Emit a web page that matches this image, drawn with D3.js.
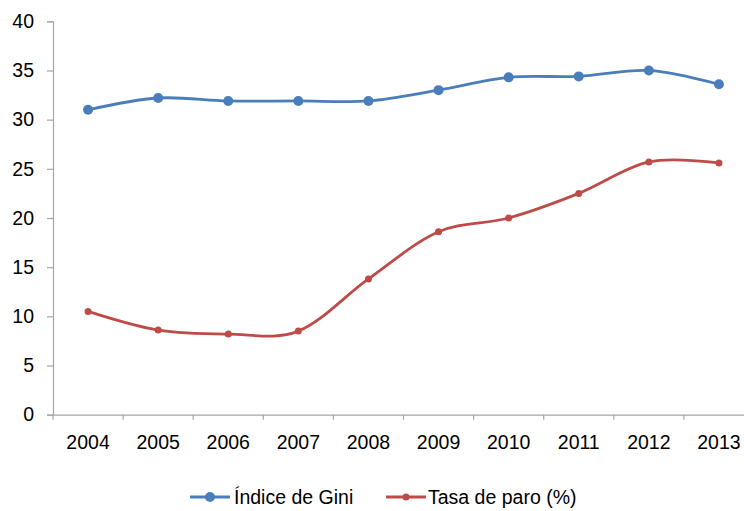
<!DOCTYPE html>
<html>
<head>
<meta charset="utf-8">
<script src="https://cdn.jsdelivr.net/npm/d3@7"></script>
<style>
html,body{margin:0;padding:0;background:#fff;}
svg{display:block;}
text{font-family:"Liberation Sans",Arial,sans-serif;fill:#000;}
</style>
</head>
<body>
<svg id="chart" width="744" height="511"></svg>
<script>
const years = ["2004","2005","2006","2007","2008","2009","2010","2011","2012","2013"];
const gini = [31.0, 32.2, 31.9, 31.9, 31.9, 33.0, 34.3, 34.4, 35.0, 33.6];
const paro = [10.5, 8.6, 8.2, 8.5, 13.8, 18.6, 20.0, 22.5, 25.7, 25.6];
const yTicks = [0, 5, 10, 15, 20, 25, 30, 35, 40];
const seriesNames = ["Índice de Gini", "Tasa de paro (%)"];

(function () {
const svg = d3.select("#chart");
const mLeft = 53, mRight = 754, mTop = 21.3, mBottom = 414.7;
const fontSize = "19.5px";

const x = d3.scaleBand().domain(years).range([mLeft, mRight]);
const y = d3.scaleLinear().domain([0, 40]).range([mBottom, mTop]);

// Y axis
const yAxis = svg.append("g").attr("transform", `translate(${mLeft},0)`)
  .call(d3.axisLeft(y).tickValues(yTicks).tickSize(6).tickPadding(13));
yAxis.select(".domain").attr("stroke", "#a6a6a6").attr("stroke-width", 1.2);
yAxis.selectAll(".tick line").attr("stroke", "#a6a6a6").attr("stroke-width", 1.2);
yAxis.selectAll("text").style("font-size", fontSize).attr("fill", "#000")
  .style("font-family", '"Liberation Sans",Arial,sans-serif');

// X axis
const xAxis = svg.append("g").attr("transform", `translate(0,${mBottom})`)
  .call(d3.axisBottom(x).tickSize(0).tickPadding(20));
xAxis.select(".domain").attr("stroke", "#a6a6a6").attr("stroke-width", 1.2);
xAxis.selectAll("text").style("font-size", fontSize).attr("fill", "#000")
  .style("font-family", '"Liberation Sans",Arial,sans-serif');
// category boundary ticks
const bounds = years.map(d => x(d)).concat([x(years[years.length-1]) + x.bandwidth()]);
svg.append("g").selectAll("line").data(bounds).join("line")
  .attr("x1", d => d).attr("x2", d => d)
  .attr("y1", mBottom).attr("y2", mBottom + 5)
  .attr("stroke", "#a6a6a6").attr("stroke-width", 1.2);

const cx = d => x(d) + x.bandwidth() / 2;
const line = d3.line().curve(d3.curveCardinal.tension(0))
  .x((d, i) => cx(years[i])).y(d => y(d));

const series = [
  {name: seriesNames[0], values: gini, color: "#4A7EBB", r: 5},
  {name: seriesNames[1], values: paro, color: "#BE4B48", r: 3.5}
];

series.forEach(s => {
  svg.append("path").datum(s.values).attr("d", line)
    .attr("fill", "none").attr("stroke", s.color).attr("stroke-width", 2.8)
    .attr("stroke-linejoin", "round").attr("stroke-linecap", "round");
  svg.append("g").selectAll("circle").data(s.values).join("circle")
    .attr("cx", (d, i) => cx(years[i])).attr("cy", d => y(d))
    .attr("r", s.r).attr("fill", s.color);
});

// Legend
const legendY = 497;
const legendItems = [
  {x0: 190, tx: 234},
  {x0: 386, tx: 428}
];
series.forEach((s, i) => {
  const g = svg.append("g");
  const L = legendItems[i];
  g.append("line").attr("x1", L.x0).attr("x2", L.x0 + 40)
    .attr("y1", legendY).attr("y2", legendY)
    .attr("stroke", s.color).attr("stroke-width", 2.8);
  g.append("circle").attr("cx", L.x0 + 20).attr("cy", legendY).attr("r", s.r).attr("fill", s.color);
  g.append("text").attr("x", L.tx).attr("y", legendY + 7)
    .style("font-size", fontSize).text(s.name);
});
})();
</script>
</body>
</html>
